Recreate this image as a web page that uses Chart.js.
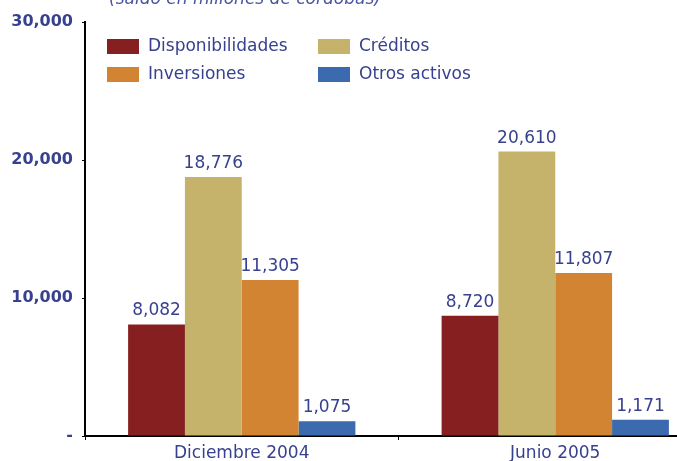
<!DOCTYPE html>
<html>
<head>
<meta charset="utf-8">
<script src="https://cdn.jsdelivr.net/npm/chart.js@4.4.0/dist/chart.umd.min.js"></script>
<style>
    html, body { margin: 0; padding: 0; background: #fff; overflow: hidden; }
    #wrap { position: absolute; left: 0; top: -14px; width: 712px; height: 475px; }
</style>
</head>
<body>
<div id="wrap"><canvas id="chart" width="712" height="475"></canvas></div>
<script>
// Chart data
const categories = ['Diciembre 2004', 'Junio 2005'];
const seriesNames = ['Disponibilidades', 'Créditos', 'Inversiones', 'Otros activos'];
const disponibilidades = [8082, 8720];
const creditos = [18776, 20610];
const inversiones = [11305, 11807];
const otrosActivos = [1075, 1171];
const yTicks = [0, 10000, 20000, 30000];
const titleText = '(saldo en millones de córdobas)';

const textColor = '#38418f';
const fontFamily = '"DejaVu Sans", sans-serif';
const colors = ['#861f1f', '#c5b36c', '#d38433', '#3b6aae'];

const fmt = v => v.toLocaleString('en-US');

// Title, value labels and a 2x2 legend
const decorPlugin = {
    id: 'decor',
    afterDatasetsDraw: function(chart) {
        const ctx = chart.ctx;
        ctx.save();

        // Title (cut off at the top of the page)
        ctx.font = 'italic 17px ' + fontFamily;
        ctx.fillStyle = '#4a55a0';
        ctx.textAlign = 'center';
        ctx.textBaseline = 'alphabetic';
        ctx.fillText(titleText, 245, 18);

        // Value labels above the bars
        ctx.font = '17px ' + fontFamily;
        ctx.fillStyle = textColor;
        ctx.textBaseline = 'bottom';
        chart.data.datasets.forEach((ds, i) => {
            chart.getDatasetMeta(i).data.forEach((bar, j) => {
                ctx.fillText(fmt(ds.data[j]), bar.x, bar.y - 5);
            });
        });

        // Legend
        const cols = [107, 318];
        const rows = [60, 88];
        ctx.font = '17px ' + fontFamily;
        ctx.textAlign = 'left';
        ctx.textBaseline = 'middle';
        chart.data.datasets.forEach((ds, i) => {
            const x = cols[i % 2];
            const y = rows[Math.floor(i / 2)];
            ctx.fillStyle = ds.backgroundColor;
            ctx.fillRect(x, y - 7, 32, 15);
            ctx.fillStyle = textColor;
            ctx.fillText(ds.label, x + 41, y + 1);
        });

        ctx.restore();
    }
};

const seriesValues = [disponibilidades, creditos, inversiones, otrosActivos];

new Chart(document.getElementById('chart'), {
    type: 'bar',
    data: {
        labels: categories,
        datasets: seriesValues.map((values, i) => ({
            label: seriesNames[i],
            data: values,
            backgroundColor: colors[i],
            borderWidth: 0,
            categoryPercentage: 0.725,
            barPercentage: 1
        }))
    },
    options: {
        responsive: false,
        animation: false,
        layout: { padding: { top: 36, left: 0, right: 0, bottom: 0 } },
        plugins: {
            legend: { display: false },
            tooltip: { enabled: false }
        },
        scales: {
            x: {
                grid: {
                    display: true,
                    drawOnChartArea: false,
                    tickLength: 4,
                    color: '#000'
                },
                border: { display: true, color: '#000', width: 2 },
                ticks: {
                    color: textColor,
                    font: { family: fontFamily, size: 17 },
                    padding: 3
                },
                afterFit: function(scale) { scale.height = 25; }
            },
            y: {
                min: 0,
                max: 30000,
                afterBuildTicks: function(scale) {
                    scale.ticks = yTicks.map(v => ({ value: v }));
                },
                grid: {
                    display: true,
                    drawOnChartArea: false,
                    tickLength: 3,
                    color: '#000'
                },
                border: { display: true, color: '#000', width: 2 },
                ticks: {
                    color: textColor,
                    font: { family: fontFamily, size: 16, weight: 'bold' },
                    padding: 9,
                    callback: v => v === 0 ? '-' : fmt(v)
                },
                afterFit: function(scale) { scale.width = 85; }
            }
        }
    },
    plugins: [decorPlugin]
});
</script>
</body>
</html>
